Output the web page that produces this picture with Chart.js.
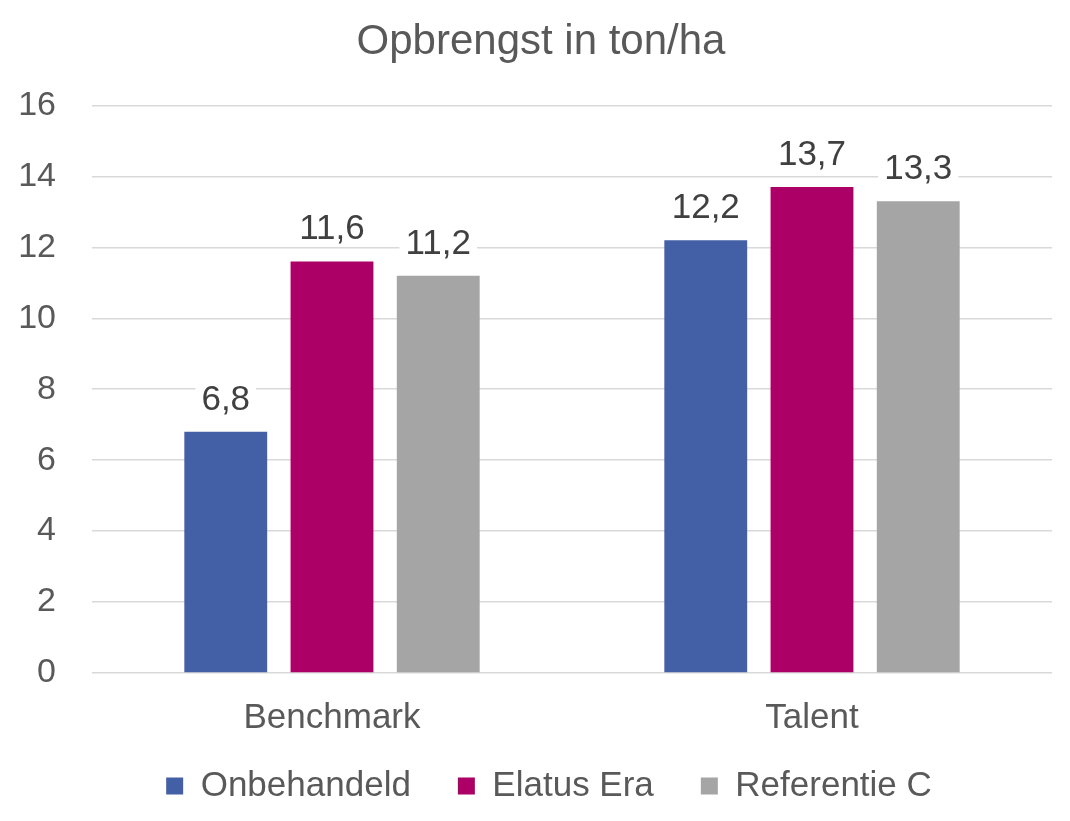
<!DOCTYPE html>
<html>
<head>
<meta charset="utf-8">
<script src="https://cdn.jsdelivr.net/npm/chart.js@4.4.0/dist/chart.umd.min.js"></script>
<style>
html,body{margin:0;padding:0;background:#ffffff;}
#wrap{width:1070px;height:821px;}
</style>
</head>
<body>
<div id="wrap"><canvas id="c" width="1070" height="821"></canvas></div>
<script>
const categories = ['Benchmark', 'Talent'];
const seriesNames = ['Onbehandeld', 'Elatus Era', 'Referentie C'];
const onbehandeld = [6.8, 12.2];
const elatusEra = [11.6, 13.7];
const referentieC = [11.2, 13.3];
const yTicks = [0, 2, 4, 6, 8, 10, 12, 14, 16];
const titleText = 'Opbrengst in ton/ha';

const colors = ['#4360A7', '#AC0067', '#A5A5A5'];
const FONT = '"Liberation Sans", Arial, sans-serif';

const valueLabels = {
  id: 'valueLabels',
  afterDatasetsDraw(chart) {
    const ctx = chart.ctx;
    ctx.save();
    ctx.font = '35px ' + FONT;
    ctx.textAlign = 'center';
    ctx.textBaseline = 'alphabetic';
    chart.data.datasets.forEach((ds, i) => {
      const meta = chart.getDatasetMeta(i);
      meta.data.forEach((bar, j) => {
        const txt = ds.data[j].toFixed(1).replace('.', ',');
        const w = ctx.measureText(txt).width;
        const y = bar.y - 22;
        ctx.fillStyle = '#ffffff';
        ctx.fillRect(bar.x - w / 2 - 6, y - 29, w + 12, 36);
        ctx.fillStyle = '#404040';
        ctx.fillText(txt, bar.x, y);
      });
    });
    ctx.restore();
  }
};

const boxShift = {
  id: 'boxShift',
  afterLayout(chart) {
    const lg = chart.legend;
    if (lg) {
      const dx = 23;
      const dy = 721.5 - lg.top;
      lg.left += dx; lg.right += dx;
      lg.top += dy; lg.bottom += dy;
    }
    const tb = chart.titleBlock;
    if (tb) {
      tb.left += 15; tb.right += 15;
    }
    const xs = chart.scales.x;
    if (xs) {
      xs.bottom += 16;
      xs.height += 16;
    }
  }
};

const datasets = [onbehandeld, elatusEra, referentieC].map((d, i) => ({
  label: seriesNames[i],
  data: d,
  backgroundColor: colors[i],
  borderWidth: 0,
  categoryPercentage: 0.664,
  barPercentage: 0.78
}));

new Chart(document.getElementById('c'), {
  type: 'bar',
  data: { labels: categories, datasets: datasets },
  options: {
    responsive: false,
    animation: false,
    devicePixelRatio: 1,
    layout: { padding: { left: 0, right: 18, top: 0, bottom: 0 } },
    plugins: {
      title: {
        display: true,
        text: titleText,
        color: '#595959',
        font: { family: FONT, size: 42, weight: 'normal' },
        padding: { top: 17, bottom: 38 }
      },
      legend: {
        display: true,
        position: 'bottom',
        labels: {
          color: '#595959',
          font: { family: FONT, size: 35 },
          boxWidth: 17,
          boxHeight: 17,
          padding: 47
        }
      },
      tooltip: { enabled: false }
    },
    scales: {
      x: {
        grid: { display: false, drawTicks: false },
        border: { display: false },
        ticks: { color: '#595959', font: { family: FONT, size: 35 }, padding: 24 },
        afterFit(scale) { scale.height = 56; }
      },
      y: {
        min: 0,
        max: 16,
        afterBuildTicks(scale) { scale.ticks = yTicks.map(v => ({ value: v })); },
        grid: { color: '#D9D9D9', lineWidth: 1.5, drawTicks: false },
        border: { display: false },
        ticks: { color: '#595959', font: { family: FONT, size: 34 }, padding: 36 },
        afterFit(scale) { scale.width = 92; }
      }
    }
  },
  plugins: [valueLabels, boxShift]
});
</script>
</body>
</html>
